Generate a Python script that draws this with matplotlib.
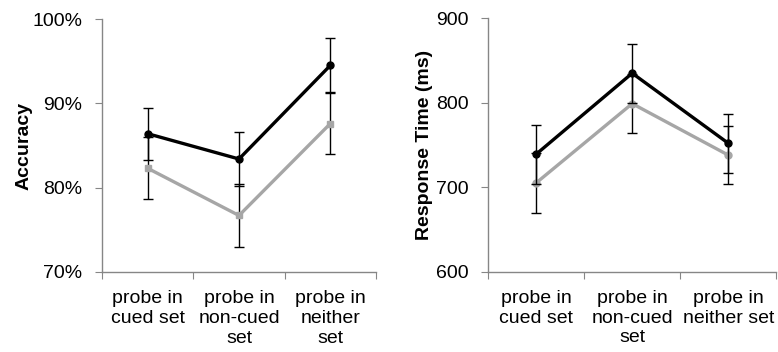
import matplotlib
matplotlib.use("Agg")
import matplotlib.pyplot as plt
from matplotlib.ticker import FixedLocator, NullFormatter

plt.rcParams['font.family'] = ['Liberation Sans', 'DejaVu Sans']

# accuracy panel (percent)
acc_labels = ["probe in\ncued set", "probe in\nnon-cued\nset", "probe in\nneither\nset"]
acc_black = [86.4, 83.4, 94.5]
acc_black_err = [3.1, 3.2, 3.2]
acc_gray = [82.3, 76.7, 87.6]
acc_gray_err = [3.7, 3.7, 3.6]
acc_ticks = [70, 80, 90, 100]

# response time panel (ms)
rt_labels = ["probe in\ncued set", "probe in\nnon-cued\nset", "probe in\nneither set"]
rt_black = [739, 835, 752]
rt_black_err = [35, 35, 35]
rt_gray = [705, 799, 738]
rt_gray_err = [35, 35, 34]
rt_ticks = [600, 700, 800, 900]

spine_col = "#868686"
black = "#000000"
gray = "#a6a6a6"

fig = plt.figure(figsize=(7.78, 3.52), dpi=100)
ax1 = fig.add_axes([0.1311, 0.2273, 0.3522, 0.7187])
ax2 = fig.add_axes([0.6272, 0.2281, 0.3708, 0.7199])


def style_axis(ax, labels, ticks, ylabel, tickfmt, label_x):
    x = [1, 2, 3]
    ax.set_xlim(0.5, 3.5)
    ax.set_ylim(ticks[0], ticks[-1])
    for s in ["top", "right"]:
        ax.spines[s].set_visible(False)
    for s in ["left", "bottom"]:
        ax.spines[s].set_color(spine_col)
        ax.spines[s].set_linewidth(1.0)
    ax.xaxis.set_major_locator(FixedLocator([0.5, 1.5, 2.5, 3.5]))
    ax.xaxis.set_major_formatter(NullFormatter())
    ax.xaxis.set_minor_locator(FixedLocator(x))
    ax.set_xticklabels(labels, minor=True, fontsize=14, linespacing=1.22)
    ax.tick_params(axis="x", which="major", length=5, color=spine_col, direction="out")
    ax.tick_params(axis="x", which="minor", length=0, pad=13)
    ax.set_yticks(ticks)
    ax.set_yticklabels([tickfmt(t) for t in ticks], fontsize=14)
    ax.tick_params(axis="y", length=5, color=spine_col, direction="out", pad=9)
    ax.set_ylabel(ylabel, fontsize=14, fontweight="bold")
    ax.yaxis.set_label_coords(label_x, 0.5)


x = [1, 2, 3]

# left: accuracy
ax1.errorbar(x, acc_gray, yerr=acc_gray_err, color=gray, lw=2.4, marker="s", ms=5,
             ecolor=black, elinewidth=1.0, capsize=3.5, capthick=1.0, zorder=2)
ax1.errorbar(x, acc_black, yerr=acc_black_err, color=black, lw=2.4, marker="o", ms=5,
             ecolor=black, elinewidth=1.0, capsize=3.5, capthick=1.0, zorder=3)
style_axis(ax1, acc_labels, acc_ticks, "Accuracy", lambda t: f"{t}%", -0.255)

# right: response time
ax2.errorbar(x, rt_gray, yerr=rt_gray_err, color=gray, lw=2.4, marker="o", ms=5,
             ecolor=black, elinewidth=1.0, capsize=3.5, capthick=1.0, zorder=2)
ax2.errorbar(x, rt_black, yerr=rt_black_err, color=black, lw=2.4, marker="o", ms=5,
             ecolor=black, elinewidth=1.0, capsize=3.5, capthick=1.0, zorder=3)
style_axis(ax2, rt_labels, rt_ticks, "Response Time (ms)", lambda t: f"{t}", -0.19)

fig.savefig("out.png", dpi=100)
